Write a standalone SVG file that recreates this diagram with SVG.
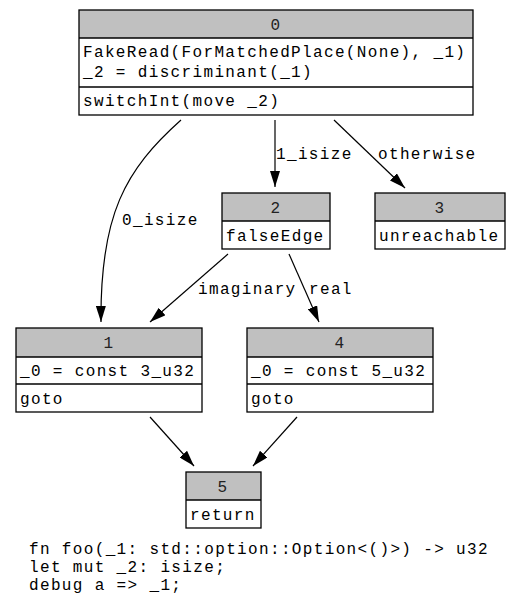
<svg xmlns="http://www.w3.org/2000/svg" width="520" height="609" viewBox="0 0 520 609">
<style>
text{font-family:"Liberation Mono","DejaVu Sans Mono",monospace;font-size:16px;letter-spacing:1.35px;fill:#000}
.hd{fill:#c0c0c0;stroke:none}
.box{fill:none;stroke:#000;stroke-width:1.3}
.sep{stroke:#000;stroke-width:1.3}
.c{text-anchor:middle;fill:#222}
.e{fill:none;stroke:#000;stroke-width:1.2;marker-end:url(#ah)}
</style>
<defs>
<marker id="ah" viewBox="0 0 16 10" refX="16" refY="5" markerWidth="16" markerHeight="10" markerUnits="userSpaceOnUse" orient="auto">
<path d="M0,0 L16,5 L0,10 z" fill="#000"/>
</marker>
</defs>
<rect width="520" height="609" fill="#fff"/>
<g id="edges">
<path class="e" d="M181,120 C125,170 100,215 101,322"/>
<path class="e" d="M275,120 L275,187"/>
<path class="e" d="M334,120 L405,188"/>
<path class="e" d="M228,254 L150,322"/>
<path class="e" d="M289,254 L319,322"/>
<path class="e" d="M150,417 L194,466"/>
<path class="e" d="M297,417 L253,466"/>
<text x="122" y="225">0_isize</text>
<text x="276" y="159">1_isize</text>
<text x="378" y="159">otherwise</text>
<text x="198" y="294">imaginary</text>
<text x="309" y="294">real</text>
</g>
<g id="node0">
<rect class="hd" x="79" y="10" width="394" height="28"/>
<rect class="box" x="79" y="10" width="394" height="105"/>
<line class="sep" x1="79" y1="38" x2="473" y2="38"/>
<line class="sep" x1="79" y1="87" x2="473" y2="87"/>
<text class="c" x="276" y="30">0</text>
<text x="83" y="57">FakeRead(ForMatchedPlace(None), _1)</text>
<text x="83" y="77">_2 = discriminant(_1)</text>
<text x="83" y="106">switchInt(move _2)</text>
</g>
<g id="node2">
<rect class="hd" x="222" y="193" width="108" height="28"/>
<rect class="box" x="222" y="193" width="108" height="56"/>
<line class="sep" x1="222" y1="221" x2="330" y2="221"/>
<text class="c" x="276" y="213">2</text>
<text x="226" y="241">falseEdge</text>
</g>
<g id="node3">
<rect class="hd" x="375" y="193" width="130" height="28"/>
<rect class="box" x="375" y="193" width="130" height="56"/>
<line class="sep" x1="375" y1="221" x2="505" y2="221"/>
<text class="c" x="440" y="213">3</text>
<text x="379" y="241">unreachable</text>
</g>
<g id="node1">
<rect class="hd" x="16" y="328" width="186" height="29"/>
<rect class="box" x="16" y="328" width="186" height="84"/>
<line class="sep" x1="16" y1="357" x2="202" y2="357"/>
<line class="sep" x1="16" y1="384" x2="202" y2="384"/>
<text class="c" x="109" y="348">1</text>
<text x="20" y="376">_0 = const 3_u32</text>
<text x="20" y="404">goto</text>
</g>
<g id="node4">
<rect class="hd" x="247" y="328" width="186" height="29"/>
<rect class="box" x="247" y="328" width="186" height="84"/>
<line class="sep" x1="247" y1="357" x2="433" y2="357"/>
<line class="sep" x1="247" y1="384" x2="433" y2="384"/>
<text class="c" x="340" y="348">4</text>
<text x="251" y="376">_0 = const 5_u32</text>
<text x="251" y="404">goto</text>
</g>
<g id="node5">
<rect class="hd" x="186" y="472" width="75" height="28"/>
<rect class="box" x="186" y="472" width="75" height="56"/>
<line class="sep" x1="186" y1="500" x2="261" y2="500"/>
<text class="c" x="223" y="492">5</text>
<text x="190" y="520">return</text>
</g>
<g id="footer">
<text x="29" y="554">fn foo(_1: std::option::Option&lt;()&gt;) -&gt; u32</text>
<text x="29" y="572">let mut _2: isize;</text>
<text x="29" y="590">debug a =&gt; _1;</text>
</g>
</svg>
